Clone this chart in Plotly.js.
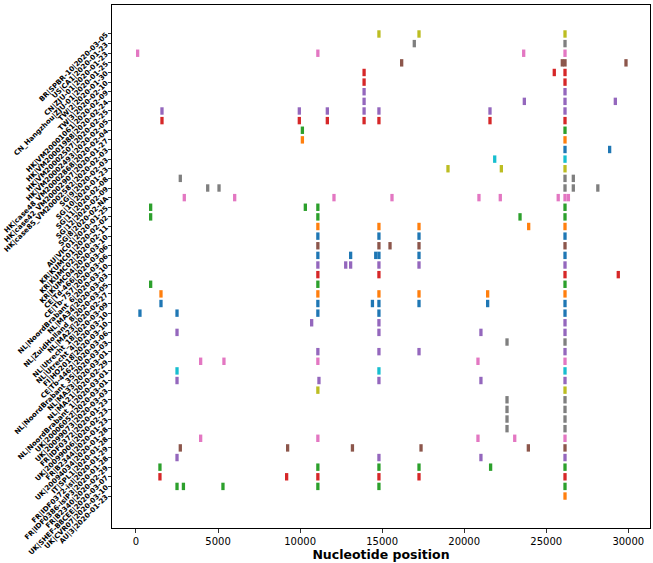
<!DOCTYPE html>
<html>
<head>
<meta charset="utf-8">
<script src="https://cdn.plot.ly/plotly-3.0.1.min.js"></script>
<style>html,body{margin:0;padding:0;background:#fff;}#chart{width:653px;height:563px;}</style>
</head>
<body>
<div id="chart"></div>
<script>
// Sample labels (top to bottom)
const labels = [
  "BR|SPBR-10|2020-03-05",
  "US|CA1|2020-01-23",
  "CN|ZJU-01|2020-01-23",
  "CN_Hangzhou|ZJU-01|2020-01-25",
  "TW|2|2020-01-30",
  "TW|3|2020-02-10",
  "HK|VM20001061|2020-02-09",
  "HK|VM20001988|2020-02-24",
  "HK|VM20002507|2020-02-25",
  "HK|VM20002493|2020-02-05",
  "HK|case48_VM20002868|2020-02-04",
  "HK|case42_VM20002907|2020-01-27",
  "HK|case85_VM20002582|2020-02-03",
  "SG|9|2020-02-03",
  "SG|10|2020-01-23",
  "SG|11|2020-02-08",
  "SG|12|2020-02-09",
  "SG|8|2020-02-NA",
  "AU|VIC01|2020-01-25",
  "KR|KUMC01|2020-02-02",
  "KR|KUMC02|2020-02-11",
  "KR|KUMC04|2020-03-10",
  "CE|Td-466|2020-03-06",
  "CE|Tb-757|2020-03-06",
  "NL|NoordBrabant_6|2020-03-10",
  "NL|MA34|2020-03-03",
  "NL|ZuidHolland_8|2020-03-05",
  "NL|MA23|2020-02-27",
  "NL|Utrecht_18|2020-03-09",
  "NL|Utrecht_4|2020-03-10",
  "FI|HO2018|2020-03-10",
  "CE|Tb-4462|2020-03-06",
  "NL|NoordBrabant_35|2020-03-03",
  "NL|MA33|2020-03-01",
  "NL|MA21|2020-02-29",
  "NL|NoordBrabant_1|2020-03-01",
  "UK|20006052|2020-03-01",
  "UK|20099073|2020-03-03",
  "FR|IDF0372|2020-01-23",
  "UK|20099006|2020-02-23",
  "FR|B2344|2020-01-23",
  "UK|20094034|2020-01-28",
  "IT|SPL1|2020-01-28",
  "FR|IDF0372-isl|2020-01-29",
  "FR|IDF0386-islP3|2020-01-28",
  "FR|B2340|2020-02-29",
  "UK|SHEF-B8CEE|2020-03-07",
  "UK|CVR07|2020-03-10",
  "AU|3|2020-01-23"
];

// Mutation positions per sample (same order as labels)
const positions = [
  [14805, 17247, 26144],
  [16960, 26144],
  [100, 11083, 23626, 26144],
  [16190, 25979, 26144, 29860],
  [13900, 25490, 26144],
  [13900, 26144],
  [13900, 26144],
  [13900, 23665, 26144, 29210],
  [1584, 9953, 11660, 13900, 14805, 21572, 26144],
  [1584, 9953, 11660, 13900, 14805, 21572, 26144],
  [10140, 26144],
  [10140, 26144],
  [26144, 28863],
  [21860, 26144],
  [19013, 22265, 26144],
  [2700, 26144, 26650],
  [4370, 5060, 26144, 26650, 28144],
  [2943, 6014, 12065, 15600, 20900, 22200, 25730, 26144, 26350],
  [893, 10320, 11083, 26144],
  [893, 11083, 23403, 26144],
  [11083, 14805, 17247, 23930, 26144],
  [11083, 14805, 17247, 26144],
  [11083, 14805, 15480, 17247, 26144],
  [11083, 13080, 14610, 14805, 17247, 26144],
  [11083, 12780, 13080, 14805, 17247, 26144],
  [11083, 14805, 26144, 29390],
  [893, 11083, 26144],
  [1523, 11083, 14805, 17247, 21430, 26144],
  [1523, 11083, 14408, 14805, 17247, 21430, 26144],
  [241, 2500, 11083, 14805, 26144],
  [10705, 14805, 26144],
  [2500, 14805, 21020, 26144],
  [22610, 26144],
  [11083, 14805, 17247, 26144],
  [3940, 5360, 11083, 20840, 26144],
  [2500, 14805, 26144],
  [2500, 11150, 14805, 21020, 26144],
  [11083, 26144],
  [22610, 26144],
  [22610, 26144],
  [22610, 26144],
  [22610, 26144],
  [3940, 11083, 20840, 23080, 26144],
  [2700, 9240, 13190, 17370, 23910, 26144],
  [2500, 14805, 21020, 26144],
  [1460, 11083, 14805, 17247, 21610, 26144],
  [1460, 9180, 11083, 14805, 17247, 26144],
  [2500, 2890, 5300, 11083, 14805, 26144],
  [26144]
];

// Colour group per sample
const groups = [8,7,6,5,3,3,4,4,4,3,2,1,0,9,8,7,7,6,2,2,1,0,5,0,4,3,2,1,0,0,4,4,7,4,6,9,4,8,7,7,7,7,6,5,4,2,3,2,1];

const xTicks = [0, 5000, 10000, 15000, 20000, 25000, 30000];

const palette = ['#1f77b4','#ff7f0e','#2ca02c','#d62728','#9467bd','#8c564b','#e377c2','#7f7f7f','#bcbd22','#17becf'];

const traces = labels.map((lab, i) => {
  const c = palette[groups[i]];
  return {
    type: 'scatter',
    mode: 'markers',
    x: positions[i],
    y: positions[i].map(() => lab),
    marker: {symbol: 'line-ns', size: 5.3, color: c, line: {color: c, width: 3.3}},
    showlegend: false,
    hoverinfo: 'x+y'
  };
});

const layout = {
  width: 653, height: 563,
  margin: {l: 112, r: 3, t: 5, b: 35},
  paper_bgcolor: '#fff', plot_bgcolor: '#fff',
  font: {family: 'DejaVu Sans, sans-serif', color: '#000'},
  xaxis: {
    range: [-1462, 31323],
    tickvals: xTicks, ticktext: xTicks.map(String),
    ticks: 'outside', ticklen: 3.5, tickwidth: 0.8, tickcolor: '#000',
    showgrid: false, zeroline: false,
    showline: true, linecolor: '#000', linewidth: 1, mirror: true,
    tickfont: {size: 10, family: 'DejaVu Sans'},
    title: {text: '<b>Nucleotide position</b>', font: {size: 12.5, family: 'DejaVu Sans'}, standoff: 4}
  },
  yaxis: {
    type: 'category', categoryorder: 'array', categoryarray: labels,
    range: [51.32, -3.01],
    ticks: 'outside', ticklen: 3.5, tickwidth: 0.8, tickcolor: '#000',
    showgrid: false, zeroline: false,
    showline: true, linecolor: '#000', linewidth: 1, mirror: true,
    tickangle: -45,
    tickfont: {size: 7, family: 'DejaVu Sans', weight: 'bold'},
    automargin: false
  }
};

Plotly.newPlot('chart', traces, layout, {displayModeBar: false, staticPlot: true});
</script>
</body>
</html>
